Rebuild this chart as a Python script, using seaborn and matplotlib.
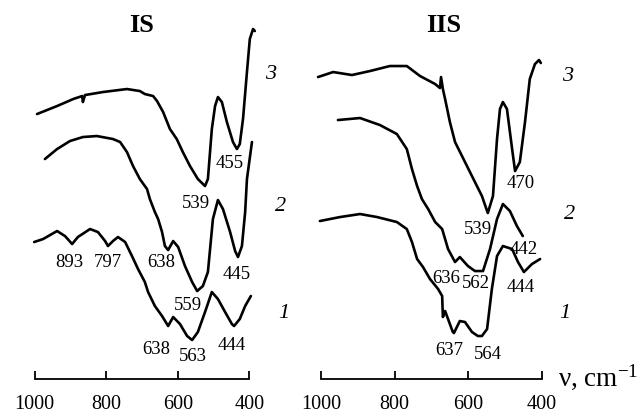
import matplotlib
matplotlib.use("Agg")
import matplotlib.pyplot as plt
import numpy as np
import seaborn as sns

# ---------------- data ----------------
# wavenumber (cm-1) and transmittance (arbitrary, stacked) for each curve

# panel IS
is_wn_1 = [1001, 976, 937, 915, 895, 879, 845, 823, 803, 795, 781, 767, 747, 728, 711, 692,
           683, 664, 644, 627, 613, 594, 574, 560, 544, 524, 505, 488, 468, 449, 443, 427, 412, 396]
is_t_1 = [137, 140, 148, 143, 135, 142, 150, 147, 138, 133, 138, 142, 137, 123, 110, 97,
          87, 73, 63, 53, 62, 55, 43, 39, 47, 67, 87, 80, 67, 55, 53, 60, 73, 83]

is_wn_2 = [971, 937, 901, 865, 826, 781, 761, 742, 725, 706, 686, 678, 664, 655, 644, 636,
           627, 613, 599, 580, 560, 546, 530, 516, 502, 488, 474, 454, 440, 432, 421, 412, 407, 393]
is_t_2 = [220, 230, 238, 242, 243, 240, 237, 227, 213, 200, 190, 180, 167, 160, 147, 133,
          129, 138, 132, 113, 97, 88, 93, 107, 160, 179, 170, 147, 128, 122, 133, 167, 200, 237]

is_wn_3 = [993, 937, 892, 867, 865, 859, 809, 742, 706, 692, 669, 658, 641, 622, 603, 586,
           566, 544, 524, 516, 505, 496, 488, 477, 463, 446, 435, 427, 418, 407, 399, 390, 385]
is_t_3 = [265, 273, 280, 283, 277, 284, 287, 290, 288, 285, 283, 278, 267, 250, 240, 227,
          213, 200, 193, 200, 250, 273, 282, 277, 257, 237, 230, 235, 260, 307, 340, 350, 348]

# panel IIS
iis_wn_1 = [1003, 948, 894, 848, 794, 767, 753, 739, 723, 704, 682, 671, 669, 663, 655, 642,
            639, 623, 609, 590, 574, 563, 549, 536, 522, 506, 481, 465, 449, 427, 405]
iis_t_1 = [158, 162, 165, 162, 157, 150, 137, 120, 112, 100, 90, 83, 62, 68, 60, 47,
           46, 58, 57, 47, 43, 43, 50, 90, 123, 133, 130, 117, 107, 115, 120]

iis_wn_2 = [954, 894, 840, 794, 767, 753, 739, 726, 709, 690, 671, 655, 636, 623, 601, 582,
            560, 541, 522, 506, 487, 468, 452]
iis_t_2 = [259, 261, 254, 245, 230, 210, 193, 180, 170, 157, 150, 130, 117, 122, 113, 108,
           108, 130, 160, 175, 168, 153, 143]

iis_wn_3 = [1008, 967, 916, 867, 813, 767, 731, 690, 677, 674, 669, 663, 650, 636, 609, 582,
            563, 547, 533, 522, 514, 506, 495, 481, 473, 460, 446, 433, 419, 408, 403]
iis_t_3 = [302, 307, 304, 308, 313, 313, 303, 295, 291, 302, 290, 280, 257, 237, 217, 197,
           183, 166, 183, 240, 270, 277, 270, 230, 208, 217, 257, 300, 315, 319, 316]

# peak labels: text, wavenumber, height
is_peaks = ['455', '539', '893', '797', '638', '445', '559', '638', '563', '444']
is_peak_wn = [454, 549, 904, 795, 647, 435, 572, 661, 558, 449]
is_peak_t = [217, 177, 118, 118, 118, 106, 75, 31, 24, 35]

iis_peaks = ['470', '539', '442', '636', '562', '444', '637', '564']
iis_peak_wn = [457, 574, 449, 661, 579, 457, 652, 547]
iis_peak_t = [197, 151, 131, 102, 97, 93, 30, 26]

# curve numbers next to the right ends
curve_names = ['1', '2', '3']
is_name_wn = [305, 312, 340]
is_name_t = [67, 174, 306]
iis_name_wn = [338, 324, 329]
iis_name_t = [67, 166, 304]

ticks = [1000, 800, 600, 400]

# ---------------- style ----------------
sns.set_style('white')
plt.rcParams['font.family'] = 'Liberation Serif'
plt.rcParams['text.color'] = 'black'
plt.rcParams['mathtext.fontset'] = 'custom'
plt.rcParams['mathtext.rm'] = 'Liberation Serif'
plt.rcParams['mathtext.it'] = 'Liberation Serif:italic'

fig = plt.figure(figsize=(6.39, 4.14), dpi=100)
ax1 = fig.add_axes([0.0316, 0.0700, 0.3756, 0.8816])
ax2 = fig.add_axes([0.4793, 0.0700, 0.3861, 0.8816])

lw = 1.9
for wn, t in [(is_wn_1, is_t_1), (is_wn_2, is_t_2), (is_wn_3, is_t_3)]:
    sns.lineplot(x=wn, y=t, ax=ax1, color='black', lw=lw, sort=False, estimator=None)
for wn, t in [(iis_wn_1, iis_t_1), (iis_wn_2, iis_t_2), (iis_wn_3, iis_t_3)]:
    sns.lineplot(x=wn, y=t, ax=ax2, color='black', lw=lw, sort=False, estimator=None)

for ax in (ax1, ax2):
    ax.set_xlim(1040, 370)
    ax.set_ylim(-5, 360)
    ax.set_facecolor('none')
    for s in ['left', 'right', 'top']:
        ax.spines[s].set_visible(False)
    ax.spines['bottom'].set_position(('data', 0))
    ax.spines['bottom'].set_bounds(400, 1000)
    ax.spines['bottom'].set_linewidth(1.3)
    ax.spines['bottom'].set_color('black')
    ax.set_xticks(ticks)
    ax.set_xticklabels([str(v) for v in ticks])
    ax.set_yticks([])
    ax.tick_params(axis='x', bottom=True, direction='in', length=6, width=1.3, pad=11,
                   labelsize=14.5, colors='black')
    ax.set_xlabel('')
    ax.set_ylabel('')

for txt, w, t in zip(is_peaks, is_peak_wn, is_peak_t):
    ax1.text(w, t, txt, ha='center', va='center', fontsize=13.5)
for txt, w, t in zip(iis_peaks, iis_peak_wn, iis_peak_t):
    ax2.text(w, t, txt, ha='center', va='center', fontsize=13.5)

for name, w, t in zip(curve_names, is_name_wn, is_name_t):
    ax1.text(w, t, name, ha='center', va='center', fontsize=16, style='italic')
for name, w, t in zip(curve_names, iis_name_wn, iis_name_t):
    ax2.text(w, t, name, ha='center', va='center', fontsize=16, style='italic')

fig.text(142 / 639, 1 - 26 / 414, 'IS', ha='center', va='center', fontsize=19, weight='bold')
fig.text(444 / 639, 1 - 25 / 414, 'IIS', ha='center', va='center', fontsize=19, weight='bold')
fig.text(558 / 639, 1 - 377 / 414, r'ν, cm$^{-1}$', ha='left', va='center', fontsize=19.5)

fig.savefig('out.png', dpi=100)
